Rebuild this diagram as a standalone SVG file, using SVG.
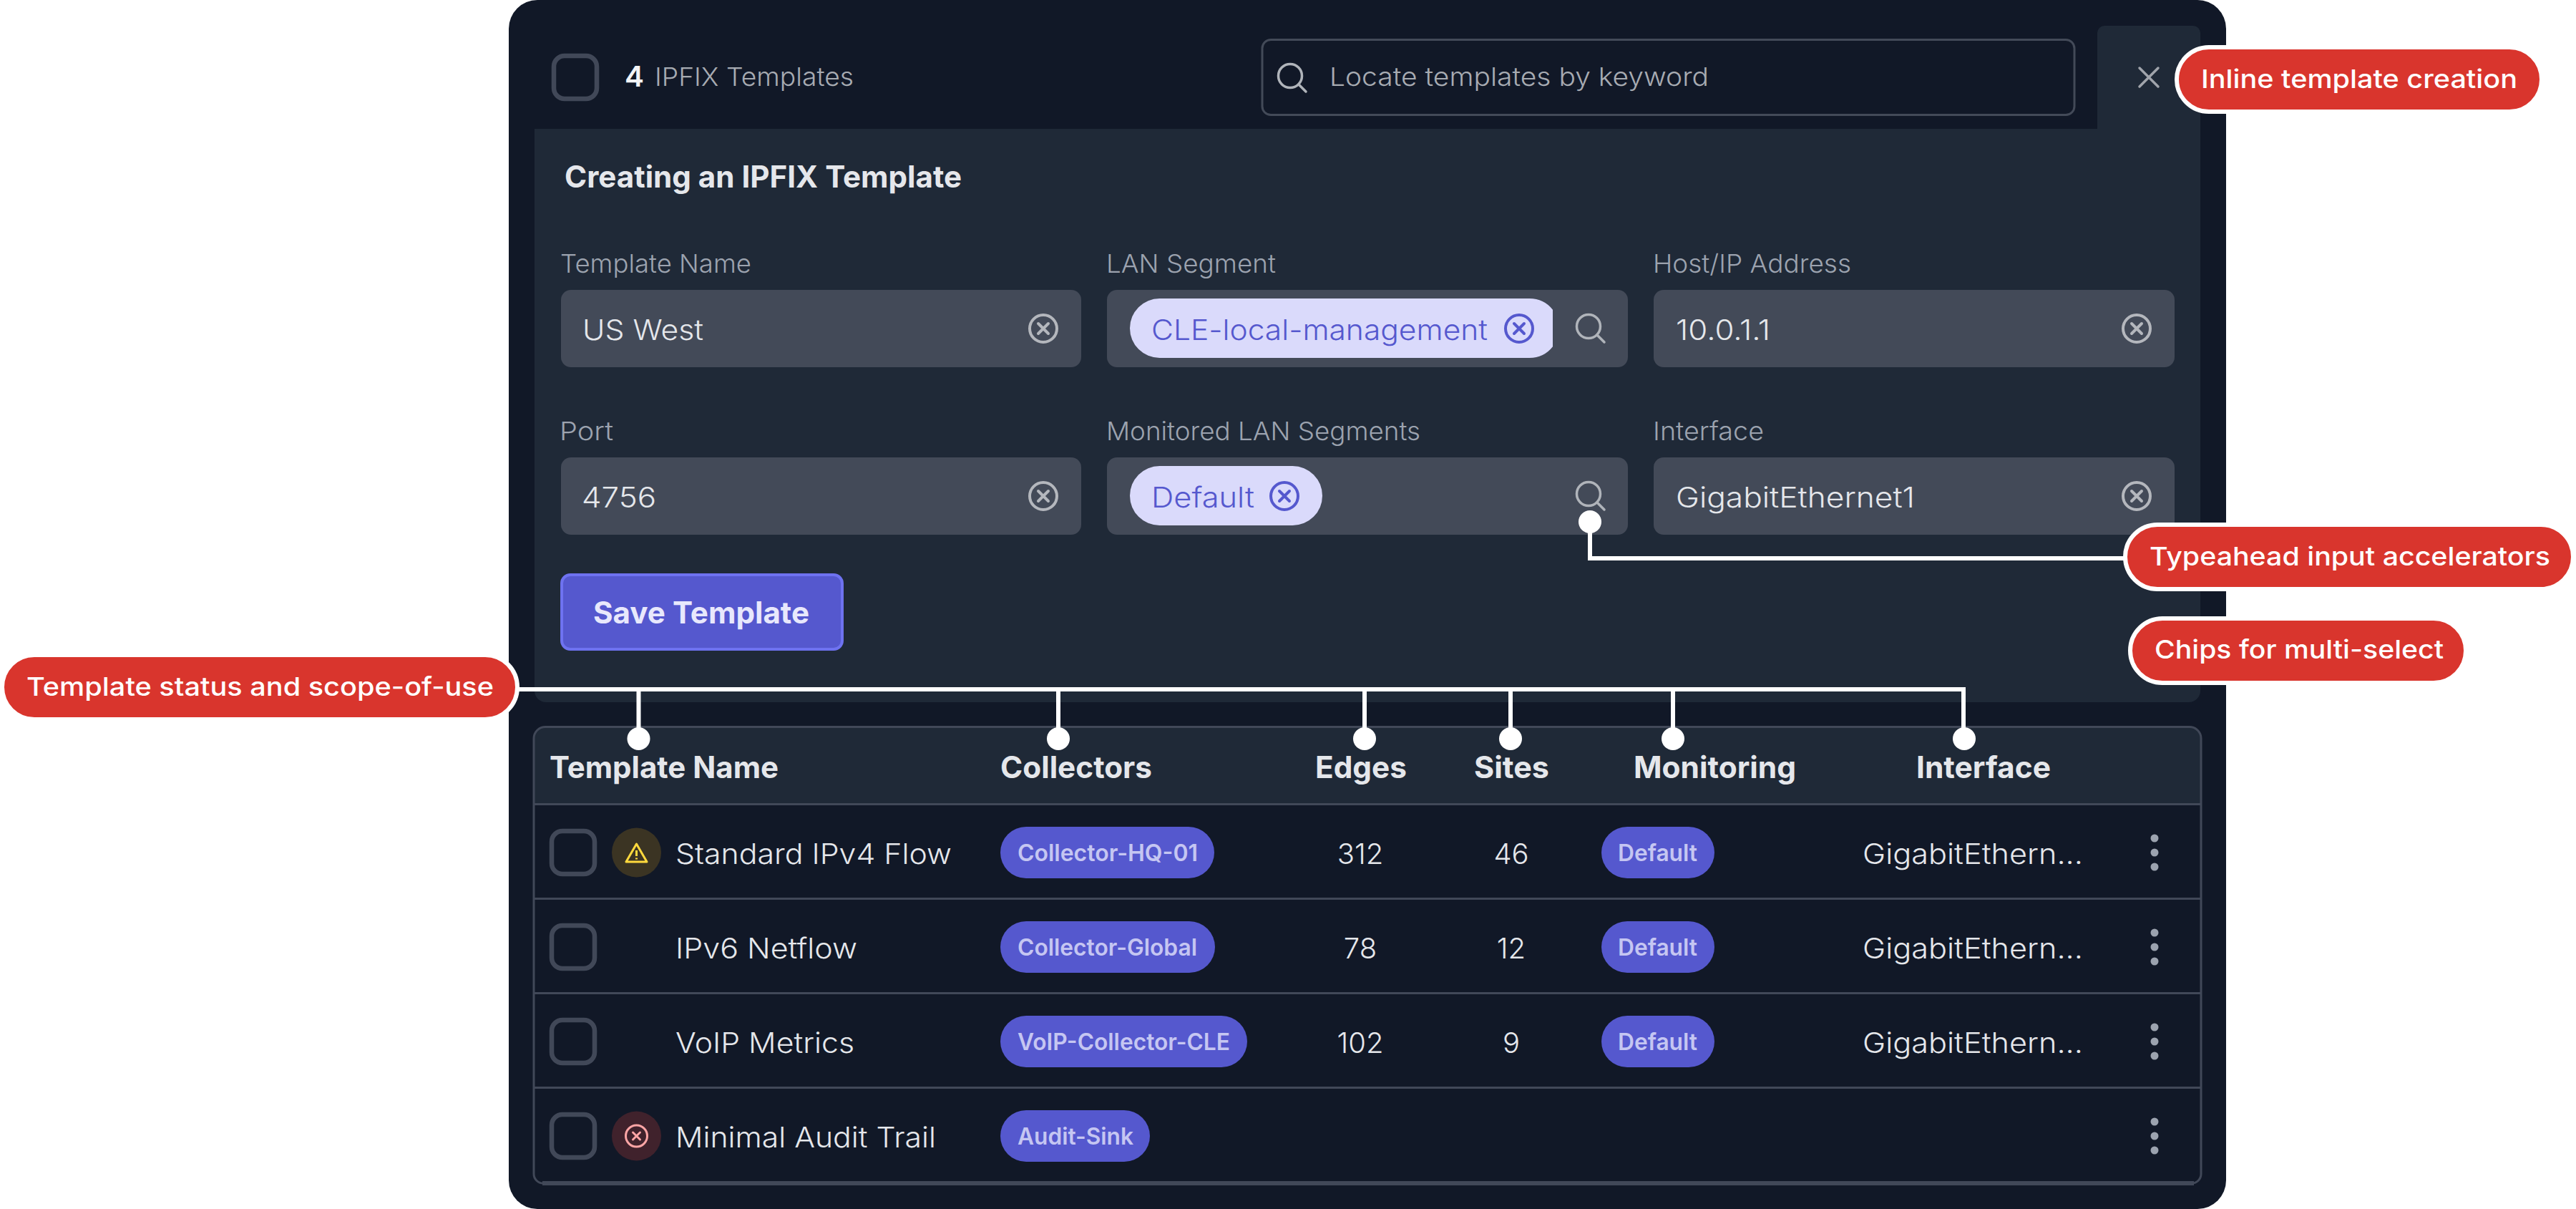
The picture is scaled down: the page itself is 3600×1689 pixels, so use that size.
<svg xmlns="http://www.w3.org/2000/svg" xmlns:xlink="http://www.w3.org/1999/xlink" width="3600" height="1689" viewBox="0 0 3600 1689">
<style>
text{font-family:"Inter","Liberation Sans",sans-serif;white-space:pre}
.lab{font-size:36px;fill:#9CA3AF;font-weight:350}
.val{font-size:40px;fill:#E5E7EB;font-weight:350}
.cell{font-size:40px;fill:#E5E7EB;font-weight:350}
.num{font-size:40px;fill:#E5E7EB;text-anchor:middle;font-weight:350}
.hdr{font-size:42px;font-weight:700;fill:#E5E7EB}
.tag{font-size:32px;font-weight:600;fill:#C5C6F2}
.chipt{font-size:40px;fill:#5558CE;font-weight:350}
.call{font-size:36px;font-weight:500;fill:#fff}
.cb{fill:none;stroke:#414858;stroke-width:6.500}
.input{fill:#434A58}
.chip{fill:#DADAFB}
.tagbg{fill:#5558CE}
.bubble{fill:#D9352D;stroke:#fff;stroke-width:6}
.line{fill:none;stroke:#fff;stroke-width:6}
.drop{fill:none;stroke:#fff;stroke-width:6}
.dot{fill:#fff}
.rule{fill:#414858}
.keb{fill:#9CA3AF}
</style>
<defs>
<g id="clear"><circle r="19" fill="none" stroke="#B4B7BD" stroke-width="4"/><path d="M-7-7 7 7M7-7-7 7" fill="none" stroke="#B4B7BD" stroke-width="4" stroke-linecap="round"/></g>
<g id="clearchip"><circle r="19" fill="none" stroke="#5558CE" stroke-width="4"/><path d="M-7-7 7 7M7-7-7 7" fill="none" stroke="#5558CE" stroke-width="4" stroke-linecap="round"/></g>
<g id="search"><circle r="16.500" fill="none" stroke="#B0B4BA" stroke-width="3.500"/><path d="M12 12 22 22" fill="none" stroke="#B0B4BA" stroke-width="3.500" stroke-linecap="round"/></g>
<g id="kebab"><circle cy="-20" r="5.500" class="keb"/><circle r="5.500" class="keb"/><circle cy="20" r="5.500" class="keb"/></g>
</defs>

<g id="panel">
<rect x="711" y="0" width="2400" height="1689" rx="40" fill="#111827"/>
<rect x="2931" y="36" width="144" height="160" rx="10" fill="#1F2937"/>
<path d="M747 180H3075V965a16 16 0 0 1-16 16H763a16 16 0 0 1-16-16Z" fill="#1F2937"/>
</g>

<g id="toolbar">
<rect x="774" y="78" width="60" height="60" rx="15" class="cb"/>
<text x="873" y="121" font-size="40" font-weight="600" fill="#F3F4F6" textLength="27" lengthAdjust="spacingAndGlyphs">4</text>
<text x="915" y="120" font-size="36" fill="#A7ABB2" font-weight="350" textLength="278" lengthAdjust="spacingAndGlyphs">IPFIX Templates</text>
<rect x="1764" y="55.500" width="1135" height="105" rx="12" fill="#111827" stroke="#434A58" stroke-width="3"/>
<use xlink:href="#search" href="#search" x="1803" y="106"/>
<text x="1858" y="120" font-size="36" fill="#A7ABB2" font-weight="350" textLength="530" lengthAdjust="spacingAndGlyphs">Locate templates by keyword</text>
<path d="M2990 95 3016 121M3016 95 2990 121" fill="none" stroke="#A0A4AB" stroke-width="3.500" stroke-linecap="round"/>
</g>

<g id="form">
<text x="789" y="262" font-size="42" font-weight="700" fill="#E5E7EB" textLength="555" lengthAdjust="spacingAndGlyphs">Creating an IPFIX Template</text>

<text x="783" y="381" class="lab" textLength="267" lengthAdjust="spacingAndGlyphs">Template Name</text>
<rect x="784" y="405" width="727" height="108" rx="14" class="input"/>
<text x="814" y="475" class="val" textLength="169" lengthAdjust="spacingAndGlyphs">US West</text>
<use xlink:href="#clear" href="#clear" x="1458" y="459"/>

<text x="1546" y="381" class="lab" textLength="237" lengthAdjust="spacingAndGlyphs">LAN Segment</text>
<rect x="1547" y="405" width="728" height="108" rx="14" class="input"/>
<path d="M1620.500 417H2137.500A41.500 41.500 0 0 1 2170 432.700V484.300A41.500 41.500 0 0 1 2137.500 500H1620.500A41.500 41.500 0 0 1 1620.500 417Z" class="chip"/>
<text x="1609" y="475" class="chipt" textLength="470" lengthAdjust="spacingAndGlyphs">CLE-local-management</text>
<use xlink:href="#clearchip" href="#clearchip" x="2123" y="459"/>
<use xlink:href="#search" href="#search" x="2220" y="456"/>

<text x="2310" y="381" class="lab" textLength="277" lengthAdjust="spacingAndGlyphs">Host/IP Address</text>
<rect x="2311" y="405" width="728" height="108" rx="14" class="input"/>
<text x="2342" y="475" class="val" textLength="132" lengthAdjust="spacingAndGlyphs">10.0.1.1</text>
<use xlink:href="#clear" href="#clear" x="2986" y="459"/>

<text x="782" y="615" class="lab" textLength="75" lengthAdjust="spacingAndGlyphs">Port</text>
<rect x="784" y="639" width="727" height="108" rx="14" class="input"/>
<text x="813" y="709" class="val" textLength="104" lengthAdjust="spacingAndGlyphs">4756</text>
<use xlink:href="#clear" href="#clear" x="1458" y="693"/>

<text x="1546" y="615" class="lab" textLength="439" lengthAdjust="spacingAndGlyphs">Monitored LAN Segments</text>
<rect x="1547" y="639" width="728" height="108" rx="14" class="input"/>
<rect x="1579" y="651" width="269" height="83" rx="41.500" class="chip"/>
<text x="1609" y="709" class="chipt" textLength="144" lengthAdjust="spacingAndGlyphs">Default</text>
<use xlink:href="#clearchip" href="#clearchip" x="1795" y="693"/>
<use xlink:href="#search" href="#search" x="2220" y="690"/>

<text x="2310" y="615" class="lab" textLength="155" lengthAdjust="spacingAndGlyphs">Interface</text>
<rect x="2311" y="639" width="728" height="108" rx="14" class="input"/>
<text x="2342" y="709" class="val" textLength="334" lengthAdjust="spacingAndGlyphs">GigabitEthernet1</text>
<use xlink:href="#clear" href="#clear" x="2986" y="693"/>

<rect x="785" y="803" width="392" height="104" rx="12" fill="#5558CE" stroke="#6E72F0" stroke-width="4"/>
<text x="829" y="871" font-size="42" font-weight="700" fill="#E8E8FC" textLength="302" lengthAdjust="spacingAndGlyphs">Save Template</text>
</g>

<g id="table">
<path d="M762 1015.500H3060a16 16 0 0 1 16 16V1640a13 13 0 0 1-13 13H759a13 13 0 0 1-13-13V1031.500a16 16 0 0 1 16-16Z" fill="#111827"/>
<path d="M762 1015.500H3060a16 16 0 0 1 16 16V1123H746V1031.500a16 16 0 0 1 16-16Z" fill="#1F2937"/>
<path d="M762 1015.500H3060a16 16 0 0 1 16 16V1640a13 13 0 0 1-13 13H759a13 13 0 0 1-13-13V1031.500a16 16 0 0 1 16-16Z" fill="none" stroke="#414858" stroke-width="3"/>
<rect x="758" y="1650" width="2308" height="6" class="rule"/>
<rect x="746" y="1122" width="2330" height="3" class="rule"/>
<rect x="746" y="1254" width="2330" height="3" class="rule"/>
<rect x="746" y="1386" width="2330" height="3" class="rule"/>
<rect x="746" y="1518" width="2330" height="3" class="rule"/>
<text x="768" y="1087" class="hdr" textLength="320" lengthAdjust="spacingAndGlyphs">Template Name</text>
<text x="1398" y="1087" class="hdr" textLength="212" lengthAdjust="spacingAndGlyphs">Collectors</text>
<text x="1838" y="1087" class="hdr" textLength="128" lengthAdjust="spacingAndGlyphs">Edges</text>
<text x="2060" y="1087" class="hdr" textLength="105" lengthAdjust="spacingAndGlyphs">Sites</text>
<text x="2283" y="1087" class="hdr" textLength="227" lengthAdjust="spacingAndGlyphs">Monitoring</text>
<text x="2678" y="1087" class="hdr" textLength="188" lengthAdjust="spacingAndGlyphs">Interface</text>
</g>

<g id="row-1">
<rect x="771" y="1161" width="60" height="60" rx="15" class="cb"/>
<circle cx="889.500" cy="1191" r="34.500" fill="#3B3423"/>
<path d="M889.500 1179 904 1204H875ZM889.500 1188V1196M889.500 1198.500V1200.500" fill="none" stroke="#FFD93D" stroke-width="3" stroke-linejoin="round"/>
<text x="944" y="1207" class="cell" textLength="386" lengthAdjust="spacingAndGlyphs">Standard IPv4 Flow</text>
<rect x="1398" y="1155" width="299" height="72" rx="36" class="tagbg"/>
<text x="1422" y="1203" class="tag" textLength="252" lengthAdjust="spacingAndGlyphs">Collector-HQ-01</text>
<text x="1901" y="1207" class="num">312</text>
<text x="2112" y="1207" class="num">46</text>
<rect x="2238" y="1155" width="158" height="72" rx="36" class="tagbg"/>
<text x="2261" y="1203" class="tag" textLength="111" lengthAdjust="spacingAndGlyphs">Default</text>
<text x="2603" y="1207" class="cell" textLength="308" lengthAdjust="spacingAndGlyphs">GigabitEthern...</text>
<use xlink:href="#kebab" href="#kebab" x="3011" y="1191"/>
</g>

<g id="row-2">
<rect x="771" y="1293" width="60" height="60" rx="15" class="cb"/>
<text x="944" y="1339" class="cell" textLength="254" lengthAdjust="spacingAndGlyphs">IPv6 Netflow</text>
<rect x="1398" y="1287" width="300" height="72" rx="36" class="tagbg"/>
<text x="1422" y="1335" class="tag" textLength="251" lengthAdjust="spacingAndGlyphs">Collector-Global</text>
<text x="1901" y="1339" class="num">78</text>
<text x="2112" y="1339" class="num">12</text>
<rect x="2238" y="1287" width="158" height="72" rx="36" class="tagbg"/>
<text x="2261" y="1335" class="tag" textLength="111" lengthAdjust="spacingAndGlyphs">Default</text>
<text x="2603" y="1339" class="cell" textLength="308" lengthAdjust="spacingAndGlyphs">GigabitEthern...</text>
<use xlink:href="#kebab" href="#kebab" x="3011" y="1323"/>
</g>

<g id="row-3">
<rect x="771" y="1425" width="60" height="60" rx="15" class="cb"/>
<text x="944" y="1471" class="cell" textLength="250" lengthAdjust="spacingAndGlyphs">VoIP Metrics</text>
<rect x="1398" y="1419" width="345" height="72" rx="36" class="tagbg"/>
<text x="1422" y="1467" class="tag" textLength="297" lengthAdjust="spacingAndGlyphs">VoIP-Collector-CLE</text>
<text x="1901" y="1471" class="num">102</text>
<text x="2112" y="1471" class="num">9</text>
<rect x="2238" y="1419" width="158" height="72" rx="36" class="tagbg"/>
<text x="2261" y="1467" class="tag" textLength="111" lengthAdjust="spacingAndGlyphs">Default</text>
<text x="2603" y="1471" class="cell" textLength="308" lengthAdjust="spacingAndGlyphs">GigabitEthern...</text>
<use xlink:href="#kebab" href="#kebab" x="3011" y="1455"/>
</g>

<g id="row-4">
<rect x="771" y="1557" width="60" height="60" rx="15" class="cb"/>
<circle cx="889.500" cy="1587" r="34.500" fill="#40222C"/>
<circle cx="889.500" cy="1587" r="15" fill="none" stroke="#FCA5A5" stroke-width="3"/>
<path d="M884.500 1582 894.500 1592M894.500 1582 884.500 1592" fill="none" stroke="#FCA5A5" stroke-width="3" stroke-linecap="round"/>
<text x="944" y="1603" class="cell" textLength="364" lengthAdjust="spacingAndGlyphs">Minimal Audit Trail</text>
<rect x="1398" y="1551" width="209" height="72" rx="36" class="tagbg"/>
<text x="1422" y="1599" class="tag" textLength="162" lengthAdjust="spacingAndGlyphs">Audit-Sink</text>
<use xlink:href="#kebab" href="#kebab" x="3011" y="1587"/>
</g>

<g id="connectors">
<path class="line" d="M722 963H2744V1032"/>
<path class="drop" d="M892.500 963V1032M1479 963V1032M1907 963V1032M2111 963V1032M2338 963V1032"/>
<circle class="dot" cx="892.500" cy="1032" r="16"/>
<circle class="dot" cx="1479" cy="1032" r="16"/>
<circle class="dot" cx="1907" cy="1032" r="16"/>
<circle class="dot" cx="2111" cy="1032" r="16"/>
<circle class="dot" cx="2338" cy="1032" r="16"/>
<circle class="dot" cx="2745" cy="1032" r="16"/>
<path class="line" d="M2972 780H2222V729"/>
<circle class="dot" cx="2222" cy="729" r="16"/>
</g>

<g id="callout-inline">
<rect x="3042" y="66" width="510" height="90" rx="45" class="bubble"/>
<text x="3076" y="123" class="call" textLength="442" lengthAdjust="spacingAndGlyphs">Inline template creation</text>
</g>
<g id="callout-typeahead">
<rect x="2970" y="733" width="626" height="90" rx="45" class="bubble"/>
<text x="3004" y="790" class="call" textLength="560" lengthAdjust="spacingAndGlyphs">Typeahead input accelerators</text>
</g>
<g id="callout-chips">
<rect x="2977" y="864" width="469" height="90" rx="45" class="bubble"/>
<text x="3011" y="920" class="call" textLength="404" lengthAdjust="spacingAndGlyphs">Chips for multi-select</text>
</g>
<g id="callout-status">
<rect x="3" y="915" width="720" height="90" rx="45" class="bubble"/>
<text x="37" y="972" class="call" textLength="653" lengthAdjust="spacingAndGlyphs">Template status and scope-of-use</text>
</g>
</svg>
